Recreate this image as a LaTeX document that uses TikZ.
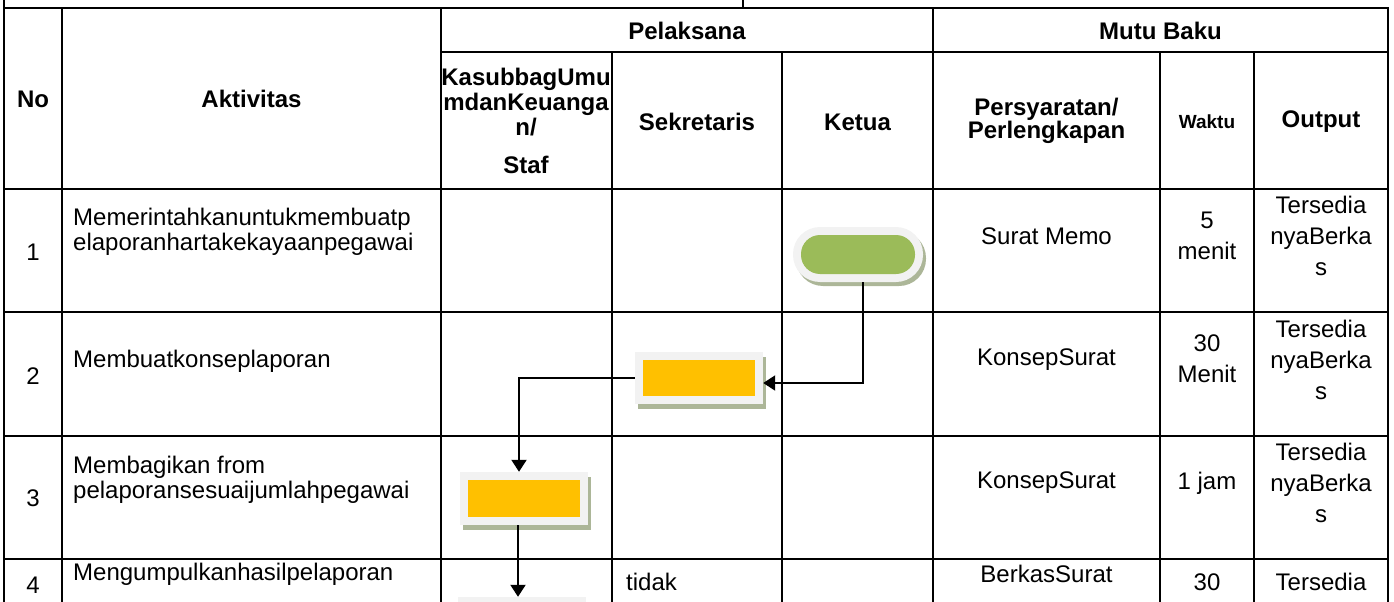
\documentclass[tikz,border=0pt]{standalone}
\usepackage{fontspec}
\setmainfont{Liberation Sans}
\usepackage{xcolor}
\usetikzlibrary{arrows.meta,shadows}
\definecolor{sopGreen}{RGB}{155,187,89}
\definecolor{sopYellow}{RGB}{255,192,0}
\definecolor{sopLight}{RGB}{242,242,242}
\definecolor{sopShadow}{RGB}{172,182,152}

\tikzset{
  tabline/.style={line width=2pt, line cap=rect},
  headtxt/.style={font=\fontsize{24}{25}\selectfont\bfseries, inner sep=0pt, align=center},
  celltxt/.style={font=\fontsize{24}{31}\selectfont, inner sep=0pt, align=center},
  acttxt/.style={font=\fontsize{24}{25}\selectfont, inner sep=0pt, align=left, anchor=west},
  procbox/.style={minimum width=128pt, minimum height=52pt, inner sep=0pt, fill=sopLight,
    drop shadow={shadow xshift=3pt, shadow yshift=-5pt, fill=sopShadow, opacity=1},
    path picture={\fill[sopYellow] ([shift={(8pt,8pt)}]path picture bounding box.south west)
      rectangle ([shift={(-8pt,-8pt)}]path picture bounding box.north east);}},
  termbox/.style={minimum width=130pt, minimum height=55pt, inner sep=0pt, fill=sopLight,
    rounded corners=27pt,
    drop shadow={shadow xshift=3pt, shadow yshift=-4pt, fill=sopShadow, opacity=1},
    path picture={\fill[sopGreen, rounded corners=19pt] ([shift={(8pt,8pt)}]path picture bounding box.south west)
      rectangle ([shift={(-8pt,-8pt)}]path picture bounding box.north east);}},
  flow/.style={line width=2pt, -{Triangle[length=12pt,width=15pt]}}
}

\begin{document}
\begin{tikzpicture}[x=1pt, y=-1pt]
  \clip (0,0) rectangle (1394,602);
  % table grid
  \draw[tabline] (4,0) -- (4,602);
  \draw[tabline] (743,0) -- (743,8);
  \draw[tabline] (4,8) -- (1388,8);
  \draw[tabline] (441,52) -- (1388,52);
  \foreach \y in {189,312,436,559}
    \draw[tabline] (4,\y) -- (1388,\y);
  \foreach \x in {62,441,933,1388}
    \draw[tabline] (\x,8) -- (\x,602);
  \foreach \x in {612,782,1160,1254}
    \draw[tabline] (\x,52) -- (\x,602);

  % header
  \node[headtxt] (hPelaksana) at (687,31) {Pelaksana};
  \node[headtxt] (hMutu) at (1160.5,31) {Mutu Baku};
  \node[headtxt] (hNo) at (33,99) {No};
  \node[headtxt] (hAktivitas) at (251.5,99) {Aktivitas};
  \node[headtxt] (hStaf) at (526,121) {KasubbagUmu\\mdanKeuanga\\n/\\[13pt]Staf};
  \node[headtxt] (hSekretaris) at (697,122) {Sekretaris};
  \node[headtxt] (hKetua) at (857.5,122) {Ketua};
  \node[headtxt, font=\fontsize{24}{23}\selectfont\bfseries] (hSyarat) at (1046.5,121) {Persyaratan/\\Perlengkapan};
  \node[headtxt, font=\fontsize{19}{23}\selectfont\bfseries] (hWaktu) at (1207,122) {Waktu};
  \node[headtxt] (hOutput) at (1321,122) {Output};

  % row 1
  \node[celltxt] (no1) at (33,252) {1};
  \node[acttxt] (act1) at (73,232) {Memerintahkanuntukmembuatp\\elaporanhartakekayaanpegawai};
  \node[celltxt] (syarat1) at (1046.5,236) {Surat Memo};
  \node[celltxt] (waktu1) at (1207,236) {5\\menit};
  \node[celltxt] (out1) at (1321,236) {Tersedia\\nyaBerka\\s};

  % row 2
  \node[celltxt] (no2) at (33,376) {2};
  \node[acttxt] (act2) at (73,361) {Membuatkonseplaporan};
  \node[celltxt] (syarat2) at (1046.5,360) {KonsepSurat};
  \node[celltxt] (waktu2) at (1207,359) {30\\Menit};
  \node[celltxt] (out2) at (1321,360) {Tersedia\\nyaBerka\\s};

  % row 3
  \node[celltxt] (no3) at (33,498) {3};
  \node[acttxt] (act3) at (73,480) {Membagikan from\\pelaporansesuaijumlahpegawai};
  \node[celltxt] (syarat3) at (1046.5,483) {KonsepSurat};
  \node[celltxt] (waktu3) at (1207,483) {1 jam};
  \node[celltxt] (out3) at (1321,483) {Tersedia\\nyaBerka\\s};

  % row 4
  \node[celltxt] (no4) at (33,585) {4};
  \node[acttxt] (act4) at (73,574) {Mengumpulkanhasilpelaporan};
  \node[celltxt, anchor=west] (tidak4) at (626,582) {tidak};
  \node[celltxt] (syarat4) at (1046.5,574) {BerkasSurat};
  \node[celltxt] (waktu4) at (1207,582) {30};
  \node[celltxt] (out4) at (1321,582) {Tersedia};

  % flow shapes
  \node[termbox] (ketuaStart) at (858,254.5) {};
  \node[procbox] (sekKonsep) at (699,378) {};
  \node[procbox, minimum height=53pt] (stafBagi) at (524,498.5) {};
  \node[procbox] (stafKumpul) at (522,623) {};

  \draw[flow] ([xshift=5pt]ketuaStart.south) |- ([yshift=-5pt]sekKonsep.east);
  \draw[flow] (sekKonsep.west) -| ([xshift=-5pt]stafBagi.north);
  \draw[flow] ([xshift=-6pt]stafBagi.south) -- ([xshift=-6pt]stafBagi.south |- stafKumpul.north);
\end{tikzpicture}
\end{document}
